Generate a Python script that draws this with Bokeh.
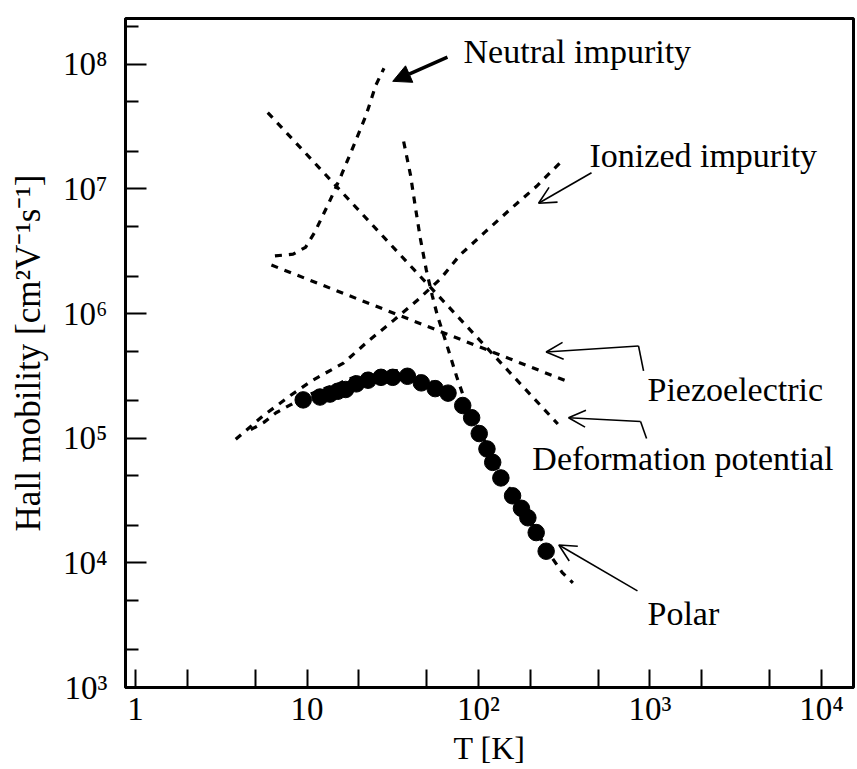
from bokeh.plotting import figure
from bokeh.models import FixedTicker, Label, Arrow, NormalHead, OpenHead
from bokeh.embed import file_html
from bokeh.resources import INLINE

# ---- data ----
T_data = [9.5, 11.9, 13.6, 15.1, 16.8, 19.4, 22.7, 27.0, 31.6, 38.5, 46.4, 55.9,
          66.4, 80.9, 91.2, 101, 112, 121, 135, 158, 178, 194, 217, 248]
mu_data = [2.03e5, 2.14e5, 2.26e5, 2.38e5, 2.46e5, 2.73e5, 2.92e5, 3.08e5, 3.08e5,
           3.14e5, 2.78e5, 2.50e5, 2.30e5, 1.83e5, 1.46e5, 1.09e5, 8.2e4, 6.4e4,
           4.8e4, 3.45e4, 2.74e4, 2.30e4, 1.75e4, 1.24e4]

T_neutral = [6.5, 8.3, 9.8, 11.1, 13.4, 15.9, 18.9, 22.1, 25.2, 28.1]
mu_neutral = [2.9e6, 3.0e6, 3.4e6, 4.5e6, 7.7e6, 1.3e7, 2.3e7, 3.9e7, 6.8e7, 9.3e7]

T_ionized = [3.84, 5.5, 8.0, 10.7, 16.3, 22.7, 31.6, 44, 60, 78, 109, 152, 218, 312]
mu_ionized = [9.8e4, 1.5e5, 2.2e5, 2.9e5, 4.0e5, 6.0e5, 8.7e5, 1.28e6, 1.9e6,
              2.95e6, 4.5e6, 6.8e6, 1.05e7, 1.72e7]

T_piezo = [6.2, 335]
mu_piezo = [2.45e6, 2.83e5]

T_deform = [5.9, 290]
mu_deform = [4.1e7, 1.3e5]

T_polar = [36.6, 40.1, 42.8, 45.8, 49.6, 53.7, 57.4, 65.5, 74.8, 81, 91.2, 101,
           114, 137, 180, 221, 258, 307, 355]
mu_polar = [2.4e7, 1.3e7, 7.2e6, 4.0e6, 2.24e6, 1.4e6, 9.8e5, 5.55e5, 3.08e5,
            2.25e5, 1.6e5, 1.15e5, 8.4e4, 4.9e4, 2.74e4, 1.75e4, 1.19e4, 8.4e3, 6.9e3]

T_total = [4.7, 5.6, 6.6, 8.1, 9.5, 12.2, 14.9, 17.4, 21.5, 27, 32.9, 39, 46.4, 55.9, 66.4]
mu_total = [1.17e5, 1.34e5, 1.6e5, 1.87e5, 2.14e5, 2.46e5, 2.68e5, 2.98e5, 3.25e5,
            3.42e5, 3.48e5, 3.42e5, 3.08e5, 2.73e5, 2.46e5]

x_ticks = [1, 10, 100, 1000, 10000]
x_tick_labels = ["1", "10", "10²", "10³", "10⁴"]
y_ticks = [1e3, 1e4, 1e5, 1e6, 1e7, 1e8]
y_tick_labels = ["10³", "10⁴", "10⁵", "10⁶", "10⁷", "10⁸"]

FONT = "Liberation Serif"

p = figure(width=856, height=768, x_axis_type="log", y_axis_type="log",
           x_range=(0.874, 15370), y_range=(1000, 2.33e8),
           output_backend="svg", toolbar_location=None,
           min_border_left=125, min_border_right=3, min_border_top=18,
           min_border_bottom=78,
           x_axis_label="T [K]", y_axis_label="Hall mobility [cm²V⁻¹s⁻¹]")

p.xgrid.visible = False
p.ygrid.visible = False
p.outline_line_color = "black"
p.outline_line_width = 3
p.background_fill_color = "white"
p.border_fill_color = "white"

p.xaxis.ticker = FixedTicker(ticks=x_ticks,
                             minor_ticks=[m * t for t in x_ticks for m in (2, 5)])
p.yaxis.ticker = FixedTicker(ticks=y_ticks,
                             minor_ticks=[m * t for t in y_ticks for m in (2, 5)])
p.xaxis.major_label_overrides = dict(zip(x_ticks, x_tick_labels))
p.yaxis.major_label_overrides = dict(zip(y_ticks, y_tick_labels))

for ax in (p.xaxis, p.yaxis):
    ax.axis_line_width = 3
    ax.axis_line_color = "black"
    ax.major_tick_out = 0
    ax.minor_tick_out = 0
    ax.major_tick_line_width = 2
    ax.minor_tick_line_width = 2
    ax.major_tick_line_color = "black"
    ax.minor_tick_line_color = "black"
    ax.major_label_text_font = FONT
    ax.major_label_text_color = "black"
    ax.major_label_text_line_height = 1.0
    ax.axis_label_text_font = FONT
    ax.axis_label_text_font_style = "normal"
    ax.axis_label_text_color = "black"
    ax.axis_label_text_line_height = 1.0

p.xaxis.major_tick_in = 18
p.xaxis.minor_tick_in = 18
p.yaxis.major_tick_in = 21
p.yaxis.minor_tick_in = 13

p.xaxis.major_label_text_font_size = "33px"
p.xaxis.axis_label_text_font_size = "32px"
p.xaxis.major_label_standoff = 3
p.xaxis.axis_label_standoff = 0

p.yaxis.major_label_text_font_size = "33px"
p.yaxis.axis_label_text_font_size = "35px"
p.yaxis.major_label_standoff = 18
p.yaxis.axis_label_standoff = 12

DASH = "7 7"
for xs, ys in [(T_neutral, mu_neutral), (T_ionized, mu_ionized),
               (T_piezo, mu_piezo), (T_deform, mu_deform),
               (T_polar, mu_polar), (T_total, mu_total)]:
    p.line(xs, ys, line_color="black", line_width=3.2, line_dash=DASH)

p.scatter(T_data, mu_data, size=16.5, fill_color="black", line_color="black")

# ---- annotations ----
def add_label(x, y, text):
    p.add_layout(Label(x=x, y=y, text=text, text_font=FONT, text_font_size="34px",
                       text_color="black", text_align="left",
                       text_baseline="alphabetic"))

add_label(81.8, 1.27e8, "Neutral impurity")
add_label(444, 1.87e7, "Ionized impurity")
add_label(967, 2.48e5, "Piezoelectric")
add_label(206, 6.85e4, "Deformation potential")
add_label(967, 3.96e3, "Polar")

p.add_layout(Arrow(x_start=65.9, y_start=1.14e8, x_end=31.6, y_end=7.3e7,
                   line_width=3.5, line_color="black",
                   end=NormalHead(size=18, fill_color="black", line_color="black")))

def open_arrow(xs, ys, xe, ye):
    p.add_layout(Arrow(x_start=xs, y_start=ys, x_end=xe, y_end=ye,
                       line_width=1.6, line_color="black",
                       end=OpenHead(size=17, line_width=1.6, line_color="black")))

def plain_seg(xs, ys, xe, ye):
    p.add_layout(Arrow(x_start=xs, y_start=ys, x_end=xe, y_end=ye,
                       line_width=1.6, line_color="black", end=None))

open_arrow(456, 1.35e7, 224, 7.68e6)       # ionized
open_arrow(857, 5.5e5, 248, 4.92e5)        # piezoelectric
plain_seg(857, 5.5e5, 917, 3.47e5)
open_arrow(881, 1.36e5, 335, 1.46e5)       # deformation potential
plain_seg(881, 1.36e5, 955, 9.93e4)
open_arrow(845, 5.96e3, 294, 1.39e4)       # polar

open("out.html", "w").write(file_html(p, INLINE))
